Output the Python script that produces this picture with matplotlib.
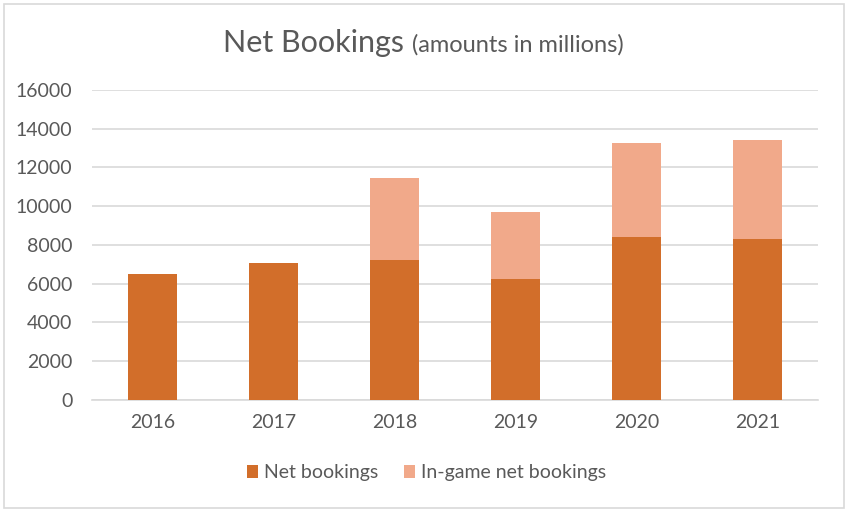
import matplotlib.pyplot as plt
import numpy as np
from matplotlib.patches import Rectangle

plt.rcParams['font.family'] = ['Lato', 'DejaVu Sans']

years = ['2016', '2017', '2018', '2019', '2020', '2021']
net_bookings = [6520, 7090, 7200, 6260, 8400, 8310]
ingame_bookings = [0, 0, 4270, 3450, 4860, 5120]

c_net = '#D26E2A'
c_ingame = '#F1A98A'
txt = '#595959'

fig = plt.figure(figsize=(8.48, 5.13), dpi=100)
ax = fig.add_axes([0.1085, 0.2203, 0.856, 0.6043])

x = np.arange(len(years))
ax.bar(x, net_bookings, width=0.4, color=c_net, label='Net bookings', zorder=3)
ax.bar(x, ingame_bookings, width=0.4, bottom=net_bookings, color=c_ingame,
       label='In-game net bookings', zorder=3)

ax.set_xlim(-0.5, len(years) - 0.5)
ax.set_ylim(0, 16000)
ax.set_yticks(range(0, 16001, 2000))
ax.set_xticks(x)
ax.set_xticklabels(years)
ax.grid(axis='y', color='#D9D9D9', linewidth=1.2, zorder=0)
for s in ['top', 'right', 'left']:
    ax.spines[s].set_visible(False)
ax.spines['bottom'].set_color('#D9D9D9')
ax.spines['bottom'].set_linewidth(1.2)
ax.tick_params(axis='both', length=0, colors=txt, labelsize=14)
ax.tick_params(axis='y', pad=14)
ax.tick_params(axis='x', pad=10)

fig.text(0.486, 0.899, 'Net Bookings ', fontsize=22, color=txt, ha='right', va='baseline')
fig.text(0.486, 0.899, '(amounts in millions)', fontsize=17, color=txt, ha='left', va='baseline')

fig.legend(loc='center', bbox_to_anchor=(0.503, 0.078), ncol=2, frameon=False,
           fontsize=14, labelcolor=txt, handlelength=0.6, handleheight=0.7,
           handletextpad=0.3, columnspacing=1.3)

fig.patches.append(Rectangle((0.005, 0.01), 0.99, 0.982, transform=fig.transFigure,
                             fill=False, edgecolor='#D9D9D9', linewidth=1.2))

fig.savefig('out.png', dpi=100)
